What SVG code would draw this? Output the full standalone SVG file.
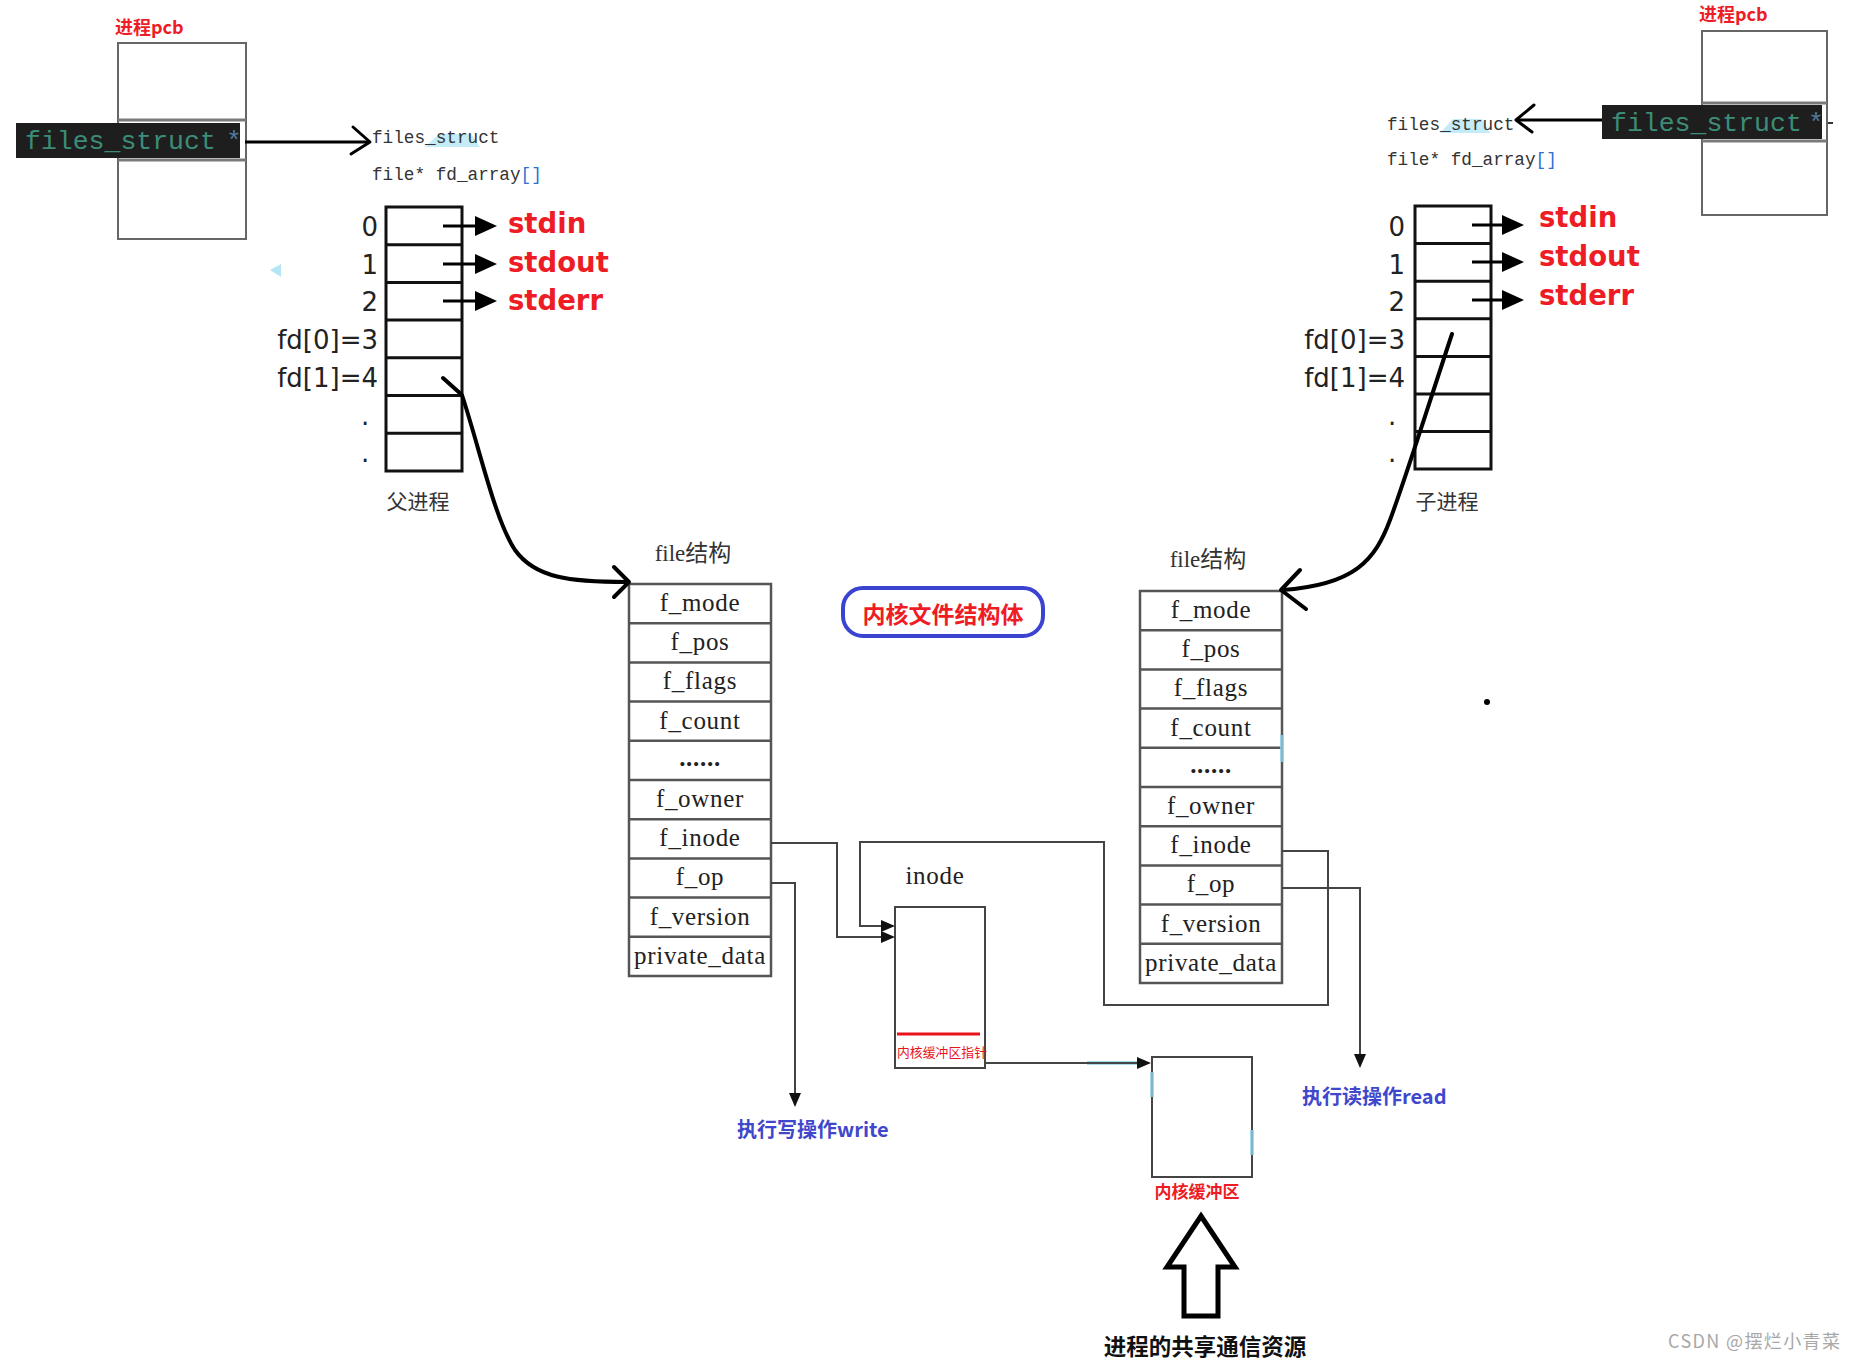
<svg xmlns="http://www.w3.org/2000/svg" width="1855" height="1360" viewBox="0 0 1855 1360">
<defs>
<style>
.cell{fill:none;stroke:#111;stroke-width:3}
.pcb{fill:#fff;stroke:#666;stroke-width:2}
.div{stroke:#7a7a7a;stroke-width:3}
.band{fill:#1e1e1e}
.code{font-family:"Liberation Mono",monospace;font-size:26.5px;fill:#3c8c78}
.star{font-family:"Liberation Mono",monospace;font-size:26.5px;fill:#4d7aa0}
.pcbt{font-family:"Noto Sans CJK SC",sans-serif;font-weight:bold;font-size:18px;fill:#ee1c25}
.mono{font-family:"Liberation Mono",monospace;font-size:17.7px;fill:#333}
.hl{fill:#c4ebf8}
.brk{fill:#2f6fd0}
.num{font-family:"DejaVu Sans",sans-serif;font-size:26px;fill:#222;text-anchor:end}
.dot{font-family:"DejaVu Sans",sans-serif;font-size:26px;fill:#222}
.std{font-family:"DejaVu Sans",sans-serif;font-weight:bold;font-size:27.5px;fill:#ee1c25}
.field{font-family:"Liberation Serif",serif;font-size:25px;fill:#222;text-anchor:middle;letter-spacing:0.7px}
.struct{fill:#fff;stroke:#555;stroke-width:2.5}
.sep{stroke:#555;stroke-width:2.5}
.wire{fill:none;stroke:#444;stroke-width:2}
.curve{fill:none;stroke:#000;stroke-width:4;stroke-linecap:round;stroke-linejoin:round}
.thin{fill:none;stroke:#000;stroke-width:3;stroke-linecap:round;stroke-linejoin:round}
.ptr{fill:none;stroke:#000;stroke-width:3}
.sarr{stroke:#000;stroke-width:3}
.cap{font-family:"Noto Sans CJK SC",sans-serif;font-size:21px;fill:#333}
.blue{font-family:"Noto Sans CJK SC",sans-serif;font-weight:bold;font-size:20px;fill:#3f47cc}
.cyan{stroke:#8fd3ea;stroke-width:4;opacity:.8}
</style>
<marker id="big" markerUnits="userSpaceOnUse" markerWidth="22" markerHeight="20" refX="5" refY="10" orient="auto" viewBox="0 0 22 20">
<path d="M0,0 L22,10 L0,20 Z" fill="#000"/>
</marker>
<marker id="sm" markerUnits="userSpaceOnUse" markerWidth="14" markerHeight="12" refX="12" refY="6" orient="auto" viewBox="0 0 14 12">
<path d="M0,0 L14,6 L0,12 Z" fill="#111"/>
</marker>
</defs>
<rect width="1855" height="1360" fill="#fff"/>

<g id="pcb-left">
<text class="pcbt" x="115" y="34">进程pcb</text>
<rect class="pcb" x="118" y="43" width="128" height="196"/>
<line class="div" x1="118" y1="120" x2="246" y2="120"/>
<line class="div" x1="118" y1="160" x2="246" y2="160"/>
<rect class="band" x="16" y="123" width="224" height="35"/>
<text class="code" x="25" y="149">files_struct</text>
<text class="star" x="226" y="149">*</text>
</g>

<g id="pcb-right">
<text class="pcbt" x="1699" y="21">进程pcb</text>
<rect class="pcb" x="1702" y="31" width="125" height="184"/>
<line class="div" x1="1702" y1="103" x2="1827" y2="103"/>
<line class="div" x1="1702" y1="141" x2="1827" y2="141"/>
<rect class="band" x="1602" y="105" width="220" height="34"/>
<text class="code" x="1611" y="131">files_struct</text>
<text class="star" x="1808" y="131">*</text>
<line x1="1828" y1="123" x2="1833" y2="123" stroke="#333" stroke-width="2"/>
</g>

<g id="files-struct-left">
<polygon class="hl" points="425,147 439,134 471,134 480,147"/>
<text class="mono" x="372" y="143">files_struct</text>
<text class="mono" x="372" y="180">file* fd_array<tspan class="brk">[]</tspan></text>
</g>

<g id="files-struct-right">
<polygon class="hl" points="1440,133 1453,119 1482,119 1490,133"/>
<text class="mono" x="1387" y="130">files_struct</text>
<text class="mono" x="1387" y="165">file* fd_array<tspan class="brk">[]</tspan></text>
</g>

<g id="fd-table-left">
<rect class="cell" x="386" y="207" width="76" height="264"/>
<path class="cell" d="M386,244.7 H462 M386,282.4 H462 M386,320.1 H462 M386,357.8 H462 M386,395.5 H462 M386,433.2 H462"/>
<text class="num" x="378" y="236">0</text>
<text class="num" x="378" y="274">1</text>
<text class="num" x="378" y="311">2</text>
<text class="num" x="378" y="349">fd[0]=3</text>
<text class="num" x="378" y="387">fd[1]=4</text>
<text class="dot" x="361" y="425">.</text>
<text class="dot" x="361" y="462">.</text>
<text class="std" x="508" y="233">stdin</text>
<text class="std" x="508" y="272">stdout</text>
<text class="std" x="508" y="310">stderr</text>
<text class="cap" x="418" y="509" text-anchor="middle">父进程</text>
<polygon points="270,270 281,264 281,277" fill="#b3e5f5"/>
</g>

<g id="fd-table-right">
<rect class="cell" x="1415" y="206" width="76" height="263"/>
<path class="cell" d="M1415,243.6 H1491 M1415,281.2 H1491 M1415,318.8 H1491 M1415,356.4 H1491 M1415,394 H1491 M1415,431.6 H1491"/>
<text class="num" x="1405" y="236">0</text>
<text class="num" x="1405" y="274">1</text>
<text class="num" x="1405" y="311">2</text>
<text class="num" x="1405" y="349">fd[0]=3</text>
<text class="num" x="1405" y="387">fd[1]=4</text>
<text class="dot" x="1388" y="425">.</text>
<text class="dot" x="1388" y="462">.</text>
<text class="std" x="1539" y="227">stdin</text>
<text class="std" x="1539" y="266">stdout</text>
<text class="std" x="1539" y="305">stderr</text>
<text class="cap" x="1447" y="509" text-anchor="middle">子进程</text>
</g>

<g id="file-left">
<text x="693" y="561" text-anchor="middle" fill="#333" font-size="23"><tspan font-family="Liberation Serif, serif">file</tspan><tspan font-family="Noto Sans CJK SC, sans-serif">结构</tspan></text>
<rect class="struct" x="629" y="584" width="142" height="392"/>
<path class="sep" d="M629,623.2 H771 M629,662.4 H771 M629,701.6 H771 M629,740.8 H771 M629,780 H771 M629,819.2 H771 M629,858.4 H771 M629,897.6 H771 M629,936.8 H771"/>
<text class="field" x="700" y="611">f_mode</text>
<text class="field" x="700" y="650">f_pos</text>
<text class="field" x="700" y="689">f_flags</text>
<text class="field" x="700" y="729">f_count</text>
<text class="field" x="700" y="766" font-weight="bold" letter-spacing="1.5">......</text>
<text class="field" x="700" y="807">f_owner</text>
<text class="field" x="700" y="846">f_inode</text>
<text class="field" x="700" y="885">f_op</text>
<text class="field" x="700" y="925">f_version</text>
<text class="field" x="700" y="964">private_data</text>
</g>

<g id="file-right">
<text x="1208" y="567" text-anchor="middle" fill="#333" font-size="23"><tspan font-family="Liberation Serif, serif">file</tspan><tspan font-family="Noto Sans CJK SC, sans-serif">结构</tspan></text>
<rect class="struct" x="1140" y="591" width="142" height="392"/>
<path class="sep" d="M1140,630.2 H1282 M1140,669.4 H1282 M1140,708.6 H1282 M1140,747.8 H1282 M1140,787 H1282 M1140,826.2 H1282 M1140,865.4 H1282 M1140,904.6 H1282 M1140,943.8 H1282"/>
<line class="cyan" x1="1282" y1="735" x2="1282" y2="762"/>
<text class="field" x="1211" y="618">f_mode</text>
<text class="field" x="1211" y="657">f_pos</text>
<text class="field" x="1211" y="696">f_flags</text>
<text class="field" x="1211" y="736">f_count</text>
<text class="field" x="1211" y="773" font-weight="bold" letter-spacing="1.5">......</text>
<text class="field" x="1211" y="814">f_owner</text>
<text class="field" x="1211" y="853">f_inode</text>
<text class="field" x="1211" y="892" fill="#2a84ad">f_op</text>
<text class="field" x="1211" y="932">f_version</text>
<text class="field" x="1211" y="971">private_data</text>
</g>

<g id="kernel-label">
<rect x="843" y="588" width="200" height="48" rx="20" fill="none" stroke="#3b44d1" stroke-width="4"/>
<text x="943" y="623" text-anchor="middle" font-family="Noto Sans CJK SC, sans-serif" font-weight="bold" font-size="23" fill="#ee1c25">内核文件结构体</text>
</g>

<g id="inode">
<text class="field" x="935" y="884">inode</text>
<rect x="895" y="907" width="90" height="161" fill="#fff" stroke="#444" stroke-width="2"/>
<line x1="897" y1="1034" x2="980" y2="1034" stroke="#e8141c" stroke-width="3"/>
<text x="897" y="1057" font-family="Noto Sans CJK SC, sans-serif" font-size="12.8" fill="#e8141c" textLength="90">内核缓冲区指针</text>
</g>

<g id="kernel-buffer">
<rect x="1152" y="1057" width="100" height="120" fill="#fff" stroke="#444" stroke-width="2"/>
<line class="cyan" x1="1152" y1="1072" x2="1152" y2="1097"/>
<line class="cyan" x1="1252" y1="1130" x2="1252" y2="1155"/>
<text x="1197" y="1198" text-anchor="middle" font-family="Noto Sans CJK SC, sans-serif" font-weight="bold" font-size="17" fill="#ee1c25">内核缓冲区</text>
</g>

<g id="shared-resource">
<polygon points="1201,1216 1235,1267 1218,1267 1218,1316 1184,1316 1184,1267 1167,1267" fill="#fff" stroke="#000" stroke-width="5" stroke-linejoin="miter"/>
<text x="1205" y="1355" text-anchor="middle" font-family="Noto Sans CJK SC, sans-serif" font-weight="bold" font-size="22.5" fill="#111">进程的共享通信资源</text>
</g>

<g id="op-labels">
<text class="blue" x="737" y="1137">执行写操作write</text>
<text class="blue" x="1302" y="1104">执行读操作read</text>
</g>

<g id="connectors">
<path class="ptr" d="M245,142 H369"/>
<polyline class="thin" points="353,127 370,142 351,154"/>
<path class="ptr" d="M1602,120 H1517"/>
<polyline class="thin" points="1534,105 1516,120 1532,132"/>
<line class="sarr" x1="443" y1="226" x2="480" y2="226" marker-end="url(#big)"/>
<line class="sarr" x1="443" y1="264" x2="480" y2="264" marker-end="url(#big)"/>
<line class="sarr" x1="443" y1="301" x2="480" y2="301" marker-end="url(#big)"/>
<line class="sarr" x1="1472" y1="225" x2="1507" y2="225" marker-end="url(#big)"/>
<line class="sarr" x1="1472" y1="262" x2="1507" y2="262" marker-end="url(#big)"/>
<line class="sarr" x1="1472" y1="300" x2="1507" y2="300" marker-end="url(#big)"/>
<path class="curve" d="M443,378 L462,395 C480,450 495,520 515,550 C535,578 570,582 627,582"/>
<polyline class="curve" points="614,567 629,582 614,597"/>
<path class="curve" d="M1452,334 C1430,400 1405,480 1390,520 C1375,560 1355,585 1282,590"/>
<polyline class="curve" points="1300,570 1281,590 1306,609"/>
<path class="wire" d="M771,843 H837 V937 H893" marker-end="url(#sm)"/>
<path class="wire" d="M1282,851 H1328 V1005 H1104 V842 H860 V926 H893" marker-end="url(#sm)"/>
<path class="wire" d="M771,883 H795 V1105" marker-end="url(#sm)"/>
<path class="wire" d="M1282,888 H1360 V1066" marker-end="url(#sm)"/>
<line class="cyan" x1="1087" y1="1063" x2="1143" y2="1063"/>
<path class="wire" d="M985,1063 H1149" marker-end="url(#sm)"/>
<circle cx="1487" cy="702" r="3" fill="#000"/>
</g>

<text x="1668" y="1348" font-family="Noto Sans CJK SC, sans-serif" font-size="18" fill="#a8a8a8" textLength="172">CSDN @摆烂小青菜</text>
</svg>
